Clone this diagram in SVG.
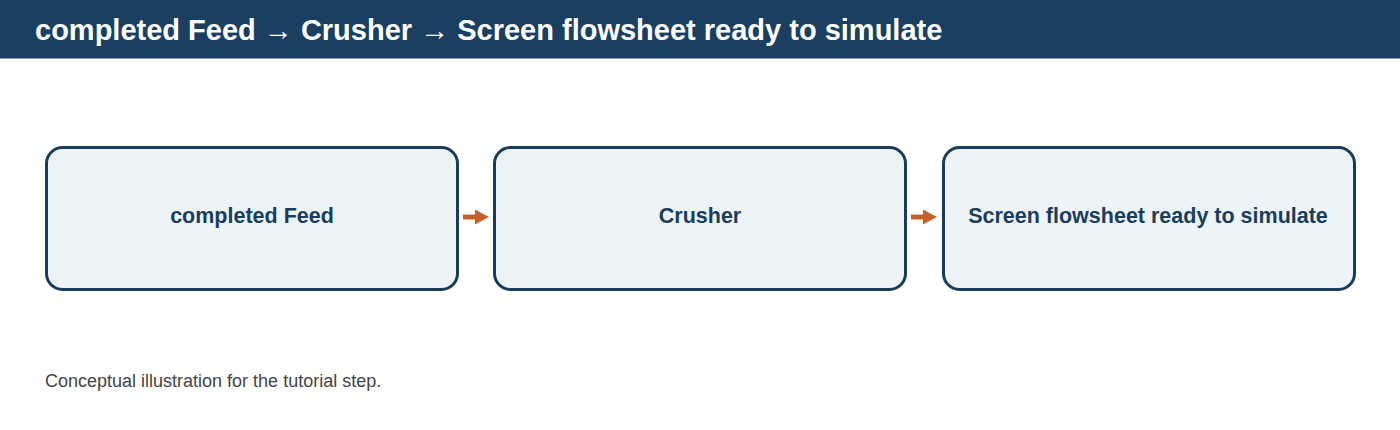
<svg xmlns="http://www.w3.org/2000/svg" width="1400" height="430" viewBox="0 0 1400 430">
<style>
.box{fill:#edf4f8;stroke:#1b3d5c;stroke-width:3}
.lbl{font-family:"Liberation Sans",Arial,sans-serif;font-size:21.5px;font-weight:bold;fill:#1b3d5c;text-anchor:middle}
.conn{stroke:#c8602a;stroke-width:5;fill:none}
</style>
<defs>
<marker id="ah" viewBox="0 0 10 10" refX="0" refY="5" markerWidth="2.8" markerHeight="3" orient="auto" markerUnits="strokeWidth" preserveAspectRatio="none">
<path d="M0,0 L10,5 L0,10 Z" fill="#c8602a"/>
</marker>
</defs>
<rect x="0" y="0" width="1400" height="58.500" fill="#1a3f61"/>
<text x="35" y="40" font-family="'Liberation Sans',Arial,sans-serif" font-size="29" font-weight="bold" fill="#ffffff">completed Feed → Crusher → Screen flowsheet ready to simulate</text>
<g id="node1">
<rect class="box" x="46.500" y="147.500" width="411" height="142" rx="16"/>
<text class="lbl" x="252" y="223">completed Feed</text>
</g>
<g id="node2">
<rect class="box" x="494.500" y="147.500" width="411" height="142" rx="16"/>
<text class="lbl" x="700" y="223">Crusher</text>
</g>
<g id="node3">
<rect class="box" x="943.500" y="147.500" width="411" height="142" rx="16"/>
<text class="lbl" x="1148" y="223">Screen flowsheet ready to simulate</text>
</g>
<g id="connectors">
<line class="conn" x1="463" y1="217" x2="475" y2="217" marker-end="url(#ah)"/>
<line class="conn" x1="911" y1="217" x2="923" y2="217" marker-end="url(#ah)"/>
</g>
<text x="45" y="387" font-family="'Liberation Sans',Arial,sans-serif" font-size="18" fill="#444444">Conceptual illustration for the tutorial step.</text>
</svg>
